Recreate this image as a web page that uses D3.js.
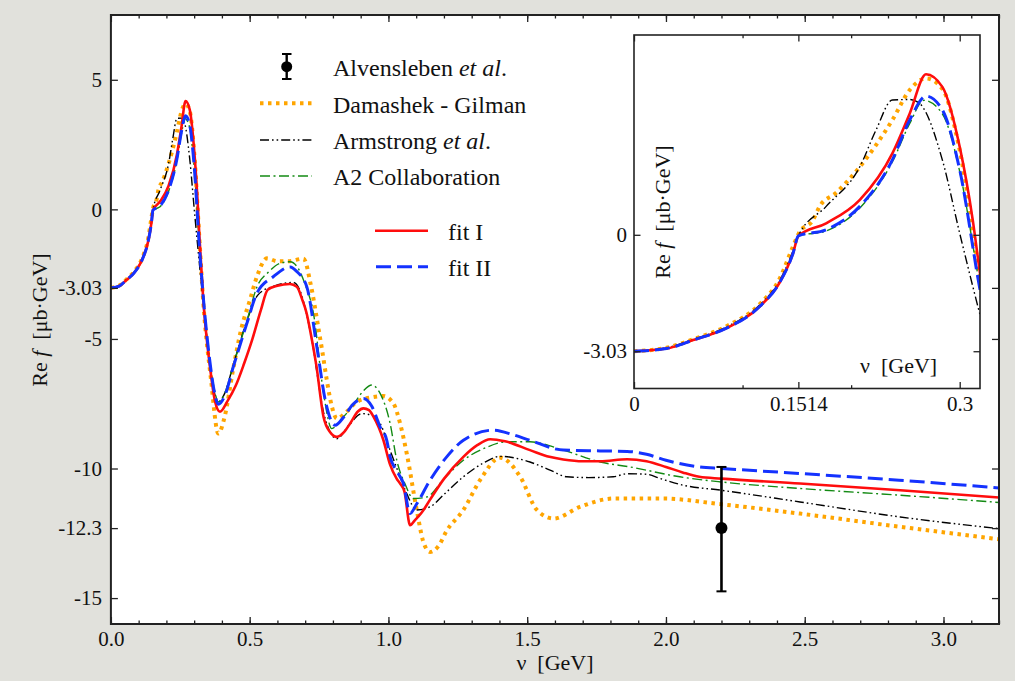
<!DOCTYPE html>
<html>
<head>
<meta charset="utf-8">
<script src="https://cdn.jsdelivr.net/npm/d3@7"></script>
<style>
  html, body { margin: 0; padding: 0; background: #e1e1dc; }
  svg { display: block; }
  svg text { font-family: "Liberation Serif", "Times New Roman", serif; fill: #111; }
  .tick line { stroke: #222; stroke-width: 1.3; }
</style>
</head>
<body>
<svg id="chart" width="1015" height="681"></svg>
<script>
// Re f (ub GeV) against photon energy nu (GeV)
const fitI = [[0,-3.03],[0.03,-2.96],[0.0545,-2.74],[0.0852,-2.43],[0.116,-1.86],[0.134,-1.25],[0.1465,-0.48],[0.1514,-0.03],
  [0.177,0.30],[0.208,0.91],[0.238,2.12],[0.254,3.16],[0.269,4.18],[0.284,3.85],[0.3,2.29],[0.312,0.39],[0.3187,-1.0],
  [0.333,-3.52],[0.357,-6.08],[0.375,-7.4],[0.393,-7.81],[0.42,-7.4],[0.45,-6.8],[0.48,-5.95],[0.51,-5.0],[0.54,-3.9],
  [0.565,-3.1],[0.6,-2.95],[0.645,-2.88],[0.67,-2.99],[0.69,-3.5],[0.705,-4.0],[0.718,-4.67],[0.74,-6.0],[0.766,-8.0],
  [0.79,-8.6],[0.814,-8.78],[0.84,-8.6],[0.862,-8.26],[0.89,-7.8],[0.91,-7.68],[0.93,-7.75],[0.946,-8.0],[0.982,-8.91],
  [1.006,-9.85],[1.03,-10.4],[1.042,-10.58],[1.058,-10.9],[1.078,-12.19],[1.095,-12.0],[1.12,-11.7],[1.15,-11.2],
  [1.2,-10.4],[1.27,-9.55],[1.32,-9.1],[1.367,-8.87],[1.42,-8.95],[1.51,-9.29],[1.58,-9.55],[1.63,-9.65],[1.7,-9.72],
  [1.763,-9.72],[1.86,-9.64],[1.93,-9.72],[2.0,-9.94],[2.06,-10.15],[2.12,-10.32],[2.2,-10.39],[2.483,-10.58],
  [2.844,-10.84],[3.2,-11.12]];

const fitII = [[0,-3.03],[0.03,-2.96],[0.0545,-2.74],[0.0852,-2.43],[0.116,-1.86],[0.134,-1.25],[0.1465,-0.48],[0.1514,-0.03],
  [0.177,0.13],[0.208,0.74],[0.238,1.95],[0.254,2.99],[0.269,3.61],[0.284,3.25],[0.3,1.69],[0.3187,-1.43],
  [0.333,-3.4],[0.357,-5.9],[0.372,-7.0],[0.387,-7.52],[0.41,-7.2],[0.441,-6.08],[0.49,-4.4],[0.526,-3.24],[0.585,-2.6],
  [0.646,-2.22],[0.67,-2.4],[0.706,-2.99],[0.742,-5.3],[0.775,-7.5],[0.808,-8.33],[0.84,-8.0],[0.87,-7.55],[0.91,-7.3],
  [0.94,-7.6],[0.97,-8.39],[0.994,-8.91],[1.006,-9.55],[1.03,-10.1],[1.054,-10.58],[1.078,-11.74],[1.1,-11.4],
  [1.15,-10.45],[1.21,-9.55],[1.27,-8.91],[1.378,-8.52],[1.45,-8.7],[1.51,-8.91],[1.63,-9.29],[1.763,-9.32],
  [1.86,-9.34],[1.93,-9.45],[2.0,-9.68],[2.12,-9.94],[2.2,-10.0],[2.48,-10.19],[2.84,-10.45],[3.2,-10.75]];

const a2 = [[0,-3.03],[0.03,-2.96],[0.0545,-2.74],[0.0852,-2.43],[0.116,-1.86],[0.134,-1.25],[0.1465,-0.48],[0.1514,-0.03],
  [0.177,0.1],[0.208,0.7],[0.238,1.9],[0.254,2.9],[0.267,3.5],[0.284,3.15],[0.3,1.65],[0.3187,-1.35],
  [0.333,-3.4],[0.357,-5.9],[0.372,-6.9],[0.387,-7.43],[0.41,-7.1],[0.441,-6.0],[0.49,-4.3],[0.526,-3.0],[0.57,-2.4],
  [0.61,-2.08],[0.646,-2.02],[0.67,-2.2],[0.7,-2.9],[0.73,-4.02],[0.765,-7.0],[0.796,-8.46],[0.83,-8.1],[0.87,-7.6],
  [0.91,-7.0],[0.94,-6.78],[0.97,-7.1],[1.006,-8.26],[1.03,-9.68],[1.06,-10.6],[1.09,-11.16],[1.138,-11.1],[1.2,-10.4],
  [1.27,-9.68],[1.35,-9.2],[1.427,-8.97],[1.51,-8.97],[1.63,-9.29],[1.763,-9.75],[1.871,-9.94],[2.05,-10.32],
  [2.2,-10.52],[2.483,-10.77],[2.844,-11.03],[3.2,-11.31]];

const armstrong = [[0,-3.03],[0.03,-2.94],[0.0545,-2.72],[0.0852,-2.4],[0.116,-1.82],[0.134,-1.2],[0.1465,-0.42],[0.1514,-0.03],
  [0.177,0.74],[0.208,1.77],[0.223,2.73],[0.238,3.51],[0.254,3.52],[0.263,3.42],[0.284,1.95],[0.3,0.04],[0.3187,-2.08],
  [0.333,-3.6],[0.36,-6.3],[0.387,-7.43],[0.41,-7.1],[0.441,-6.0],[0.49,-4.3],[0.53,-3.3],[0.59,-2.95],[0.657,-2.82],
  [0.68,-3.1],[0.72,-4.8],[0.77,-8.0],[0.814,-8.85],[0.86,-8.3],[0.904,-7.88],[0.94,-7.95],[0.97,-8.26],[1.006,-9.3],
  [1.042,-10.32],[1.066,-10.97],[1.102,-11.6],[1.15,-11.48],[1.2,-11.0],[1.27,-10.32],[1.34,-9.8],[1.403,-9.53],
  [1.51,-9.75],[1.58,-10.05],[1.643,-10.32],[1.72,-10.35],[1.81,-10.32],[1.86,-10.2],[1.93,-10.22],[1.98,-10.39],
  [2.06,-10.64],[2.2,-10.84],[2.483,-11.29],[2.844,-11.87],[3.2,-12.32]];

const damashek = [[0,-3.03],[0.03,-2.94],[0.0545,-2.72],[0.0852,-2.38],[0.116,-1.8],[0.134,-1.15],[0.1465,-0.3],[0.152,0.05],
  [0.165,0.39],[0.171,0.74],[0.186,1.09],[0.208,1.77],[0.238,2.99],[0.254,3.77],[0.269,4.07],[0.284,3.8],[0.3,2.2],
  [0.3187,-1.1],[0.333,-3.6],[0.36,-6.5],[0.387,-8.65],[0.41,-8.0],[0.44,-6.2],[0.47,-4.6],[0.501,-3.5],[0.526,-2.6],
  [0.562,-1.89],[0.6,-2.0],[0.64,-2.0],[0.694,-1.9],[0.72,-2.9],[0.748,-4.6],[0.762,-5.5],[0.778,-6.59],[0.796,-7.6],
  [0.814,-8.07],[0.85,-7.8],[0.886,-7.43],[0.946,-7.24],[0.98,-7.2],[1.018,-7.49],[1.042,-8.26],[1.066,-9.42],
  [1.102,-11.6],[1.125,-12.8],[1.15,-13.22],[1.18,-13.0],[1.21,-12.4],[1.27,-11.6],[1.33,-10.45],[1.403,-9.58],
  [1.475,-10.32],[1.535,-11.6],[1.595,-11.93],[1.69,-11.48],[1.81,-11.16],[1.99,-11.16],[2.2,-11.38],[2.483,-11.74],
  [2.844,-12.25],[3.2,-12.73]];

// Alvensleben et al. data point: nu, value, lower, upper
const alvensleben = [[2.2, -12.3, -14.74, -9.94]];

// tick values / labels
const xMajor = [0, 0.5, 1.0, 1.5, 2.0, 2.5, 3.0];
const xMinor = d3.range(0, 3.25, 0.1);
const yTicks = [5, 0, -3.03, -5, -10, -12.3, -15];
const yLabels = ["5", "0", "-3.03", "-5", "-10", "-12.3", "-15"];
const insetXMajor = [0, 0.1514, 0.3];
const insetXLabels = ["0", "0.1514", "0.3"];
const insetXMinor = [0.1, 0.2];
const insetYTicks = [0, -3.03];
const insetYLabels = ["0", "-3.03"];

// series styles
const series = [
  {name: "damashek", data: damashek, color: "#ffa500", width: 4, dash: "3.5,4.5"},
  {name: "armstrong", data: armstrong, color: "#000", width: 1.4, dash: "9,3,1.6,3,1.6,3"},
  {name: "a2", data: a2, color: "#138a13", width: 1.4, dash: "10,3.5,2,3.5"},
  {name: "fitI", data: fitI, color: "#ff0d0d", width: 2.6, dash: null},
  {name: "fitII", data: fitII, color: "#1432ff", width: 3, dash: "15,6"}
];

const FONT = '"Liberation Serif", "Times New Roman", serif';
const svg = d3.select("#chart");
const frameColor = "#222";

// ---------- main plot ----------
const x = d3.scaleLinear().domain([0, 3.2]).range([110.9, 999]);
const y = d3.scaleLinear().domain([-16, 7.5]).range([624, 15]);

svg.append("defs").append("clipPath").attr("id", "mainClip")
   .append("rect").attr("x", x(0)).attr("y", y(7.5))
   .attr("width", x(3.2) - x(0)).attr("height", y(-16) - y(7.5));

svg.append("rect").attr("x", x(0)).attr("y", y(7.5))
   .attr("width", x(3.2) - x(0)).attr("height", y(-16) - y(7.5))
   .attr("fill", "#fff");

const line = d3.line().x(d => x(d[0])).y(d => y(d[1])).curve(d3.curveMonotoneX);

const main = svg.append("g").attr("clip-path", "url(#mainClip)");
series.forEach(s => {
    main.append("path").datum(s.data)
        .attr("fill", "none")
        .attr("stroke", s.color)
        .attr("stroke-width", s.width)
        .attr("stroke-dasharray", s.dash)
        .attr("stroke-linejoin", "round")
        .attr("d", line);
});

// error bar point
const pt = svg.append("g").selectAll("g").data(alvensleben).enter().append("g");
pt.append("line").attr("x1", d => x(d[0])).attr("x2", d => x(d[0]))
  .attr("y1", d => y(d[2])).attr("y2", d => y(d[3]))
  .attr("stroke", "#000").attr("stroke-width", 2.6);
pt.append("line").attr("x1", d => x(d[0]) - 5).attr("x2", d => x(d[0]) + 5)
  .attr("y1", d => y(d[2])).attr("y2", d => y(d[2]))
  .attr("stroke", "#000").attr("stroke-width", 2);
pt.append("line").attr("x1", d => x(d[0]) - 5).attr("x2", d => x(d[0]) + 5)
  .attr("y1", d => y(d[3])).attr("y2", d => y(d[3]))
  .attr("stroke", "#000").attr("stroke-width", 2);
pt.append("circle").attr("cx", d => x(d[0])).attr("cy", d => y(d[1])).attr("r", 6).attr("fill", "#000");

// axes (ticks point inward)
const axisG = svg.append("g");
const addAxis = (parent, axis, tx, ty) =>
    parent.append("g").attr("transform", `translate(${tx},${ty})`).call(axis)
          .attr("font-family", FONT).attr("font-size", 21);

addAxis(axisG, d3.axisBottom(x).tickValues(xMinor).tickFormat("").tickSizeInner(-3.5).tickSizeOuter(0), 0, y(-16));
addAxis(axisG, d3.axisBottom(x).tickValues(xMajor).tickFormat(d3.format(".1f")).tickSizeInner(-7).tickSizeOuter(0).tickPadding(7), 0, y(-16));
addAxis(axisG, d3.axisTop(x).tickValues(xMinor).tickFormat("").tickSizeInner(-3.5).tickSizeOuter(0), 0, y(7.5));
addAxis(axisG, d3.axisTop(x).tickValues(xMajor).tickFormat("").tickSizeInner(-7).tickSizeOuter(0), 0, y(7.5));
addAxis(axisG, d3.axisLeft(y).tickValues(yTicks).tickFormat((d, i) => yLabels[i]).tickSizeInner(-7).tickSizeOuter(0).tickPadding(9), x(0), 0);
addAxis(axisG, d3.axisRight(y).tickValues(yTicks).tickFormat("").tickSizeInner(-7).tickSizeOuter(0), x(3.2), 0);
axisG.selectAll(".domain").remove();

svg.append("rect").attr("x", x(0)).attr("y", y(7.5))
   .attr("width", x(3.2) - x(0)).attr("height", y(-16) - y(7.5))
   .attr("fill", "none").attr("stroke", frameColor).attr("stroke-width", 2);

// axis titles
const yTitle = svg.append("text").attr("transform", "translate(47,320) rotate(-90)")
   .attr("text-anchor", "middle").attr("font-size", 22);
yTitle.append("tspan").text("Re ");
yTitle.append("tspan").attr("font-style", "italic").text("f");
yTitle.append("tspan").attr("xml:space", "preserve").text("  [μb·GeV]");

svg.append("text").attr("x", (x(0) + x(3.2)) / 2).attr("y", 670)
   .attr("text-anchor", "middle").attr("font-size", 22)
   .attr("xml:space", "preserve").text("ν  [GeV]");

// ---------- legend ----------
const leg = svg.append("g").attr("font-size", 24).attr("font-family", FONT);
leg.append("line").attr("x1", 286.7).attr("x2", 286.7).attr("y1", 54).attr("y2", 79).attr("stroke", "#000").attr("stroke-width", 2.4);
leg.append("line").attr("x1", 282).attr("x2", 291.5).attr("y1", 54).attr("y2", 54).attr("stroke", "#000").attr("stroke-width", 2);
leg.append("line").attr("x1", 282).attr("x2", 291.5).attr("y1", 79).attr("y2", 79).attr("stroke", "#000").attr("stroke-width", 2);
leg.append("circle").attr("cx", 286.7).attr("cy", 66.7).attr("r", 5.5).attr("fill", "#000");

const legRows = [
  {s: series[0], x1: 260, x2: 312, ly: 103.3},
  {s: series[1], x1: 260, x2: 312, ly: 140},
  {s: series[2], x1: 260, x2: 312, ly: 176},
  {s: series[3], x1: 375, x2: 428, ly: 230.7},
  {s: series[4], x1: 376, x2: 428, ly: 266.7}
];
legRows.forEach(r => {
    leg.append("line").attr("x1", r.x1).attr("x2", r.x2).attr("y1", r.ly).attr("y2", r.ly)
       .attr("stroke", r.s.color).attr("stroke-width", r.s.width).attr("stroke-dasharray", r.s.dash);
});

const t1 = leg.append("text").attr("x", 333).attr("y", 75.5);
t1.append("tspan").text("Alvensleben ");
t1.append("tspan").attr("font-style", "italic").text("et al");
t1.append("tspan").text(".");
leg.append("text").attr("x", 333).attr("y", 112.5).attr("xml:space", "preserve").text("Damashek - Gilman");
const t3 = leg.append("text").attr("x", 333).attr("y", 149);
t3.append("tspan").text("Armstrong ");
t3.append("tspan").attr("font-style", "italic").text("et al");
t3.append("tspan").text(".");
leg.append("text").attr("x", 333).attr("y", 185).text("A2 Collaboration");
leg.append("text").attr("x", 448).attr("y", 239.5).text("fit I");
leg.append("text").attr("x", 448).attr("y", 275.5).text("fit II");

// ---------- inset ----------
const xi = d3.scaleLinear().domain([0, 0.3187]).range([634, 980]);
const yi = d3.scaleLinear().domain([-4, 5.2]).range([388.5, 35]);

svg.select("defs").append("clipPath").attr("id", "insetClip")
   .append("rect").attr("x", xi(0)).attr("y", yi(5.2))
   .attr("width", xi(0.3187) - xi(0)).attr("height", yi(-4) - yi(5.2));

svg.append("rect").attr("x", xi(0)).attr("y", yi(5.2))
   .attr("width", xi(0.3187) - xi(0)).attr("height", yi(-4) - yi(5.2))
   .attr("fill", "#fff");

const lineI = d3.line().x(d => xi(d[0])).y(d => yi(d[1])).curve(d3.curveMonotoneX);
const inset = svg.append("g").attr("clip-path", "url(#insetClip)");
series.forEach(s => {
    inset.append("path").datum(s.data.filter(d => d[0] <= 0.36))
         .attr("fill", "none")
         .attr("stroke", s.color)
         .attr("stroke-width", s.width)
         .attr("stroke-dasharray", s.dash)
         .attr("stroke-linejoin", "round")
         .attr("d", lineI);
});

const insetAxes = svg.append("g");
addAxis(insetAxes, d3.axisBottom(xi).tickValues(insetXMajor).tickFormat((d, i) => insetXLabels[i]).tickSizeInner(-6.5).tickSizeOuter(0).tickPadding(8), 0, yi(-4));
addAxis(insetAxes, d3.axisBottom(xi).tickValues(insetXMinor).tickFormat("").tickSizeInner(-3.3).tickSizeOuter(0), 0, yi(-4));
addAxis(insetAxes, d3.axisTop(xi).tickValues(insetXMajor).tickFormat("").tickSizeInner(-6.5).tickSizeOuter(0), 0, yi(5.2));
addAxis(insetAxes, d3.axisTop(xi).tickValues(insetXMinor).tickFormat("").tickSizeInner(-3.3).tickSizeOuter(0), 0, yi(5.2));
addAxis(insetAxes, d3.axisLeft(yi).tickValues(insetYTicks).tickFormat((d, i) => insetYLabels[i]).tickSizeInner(-6.5).tickSizeOuter(0).tickPadding(7), xi(0), 0);
addAxis(insetAxes, d3.axisRight(yi).tickValues(insetYTicks).tickFormat("").tickSizeInner(-6.5).tickSizeOuter(0), xi(0.3187), 0);
insetAxes.selectAll(".domain").remove();

svg.append("rect").attr("x", xi(0)).attr("y", yi(5.2))
   .attr("width", xi(0.3187) - xi(0)).attr("height", yi(-4) - yi(5.2))
   .attr("fill", "none").attr("stroke", frameColor).attr("stroke-width", 1.6);

const yiTitle = svg.append("text").attr("transform", "translate(670,212) rotate(-90)")
   .attr("text-anchor", "middle").attr("font-size", 22);
yiTitle.append("tspan").text("Re ");
yiTitle.append("tspan").attr("font-style", "italic").text("f");
yiTitle.append("tspan").attr("xml:space", "preserve").text("  [μb·GeV]");

svg.append("text").attr("x", 860).attr("y", 373).attr("font-size", 22)
   .attr("xml:space", "preserve").text("ν  [GeV]");
</script>
</body>
</html>
